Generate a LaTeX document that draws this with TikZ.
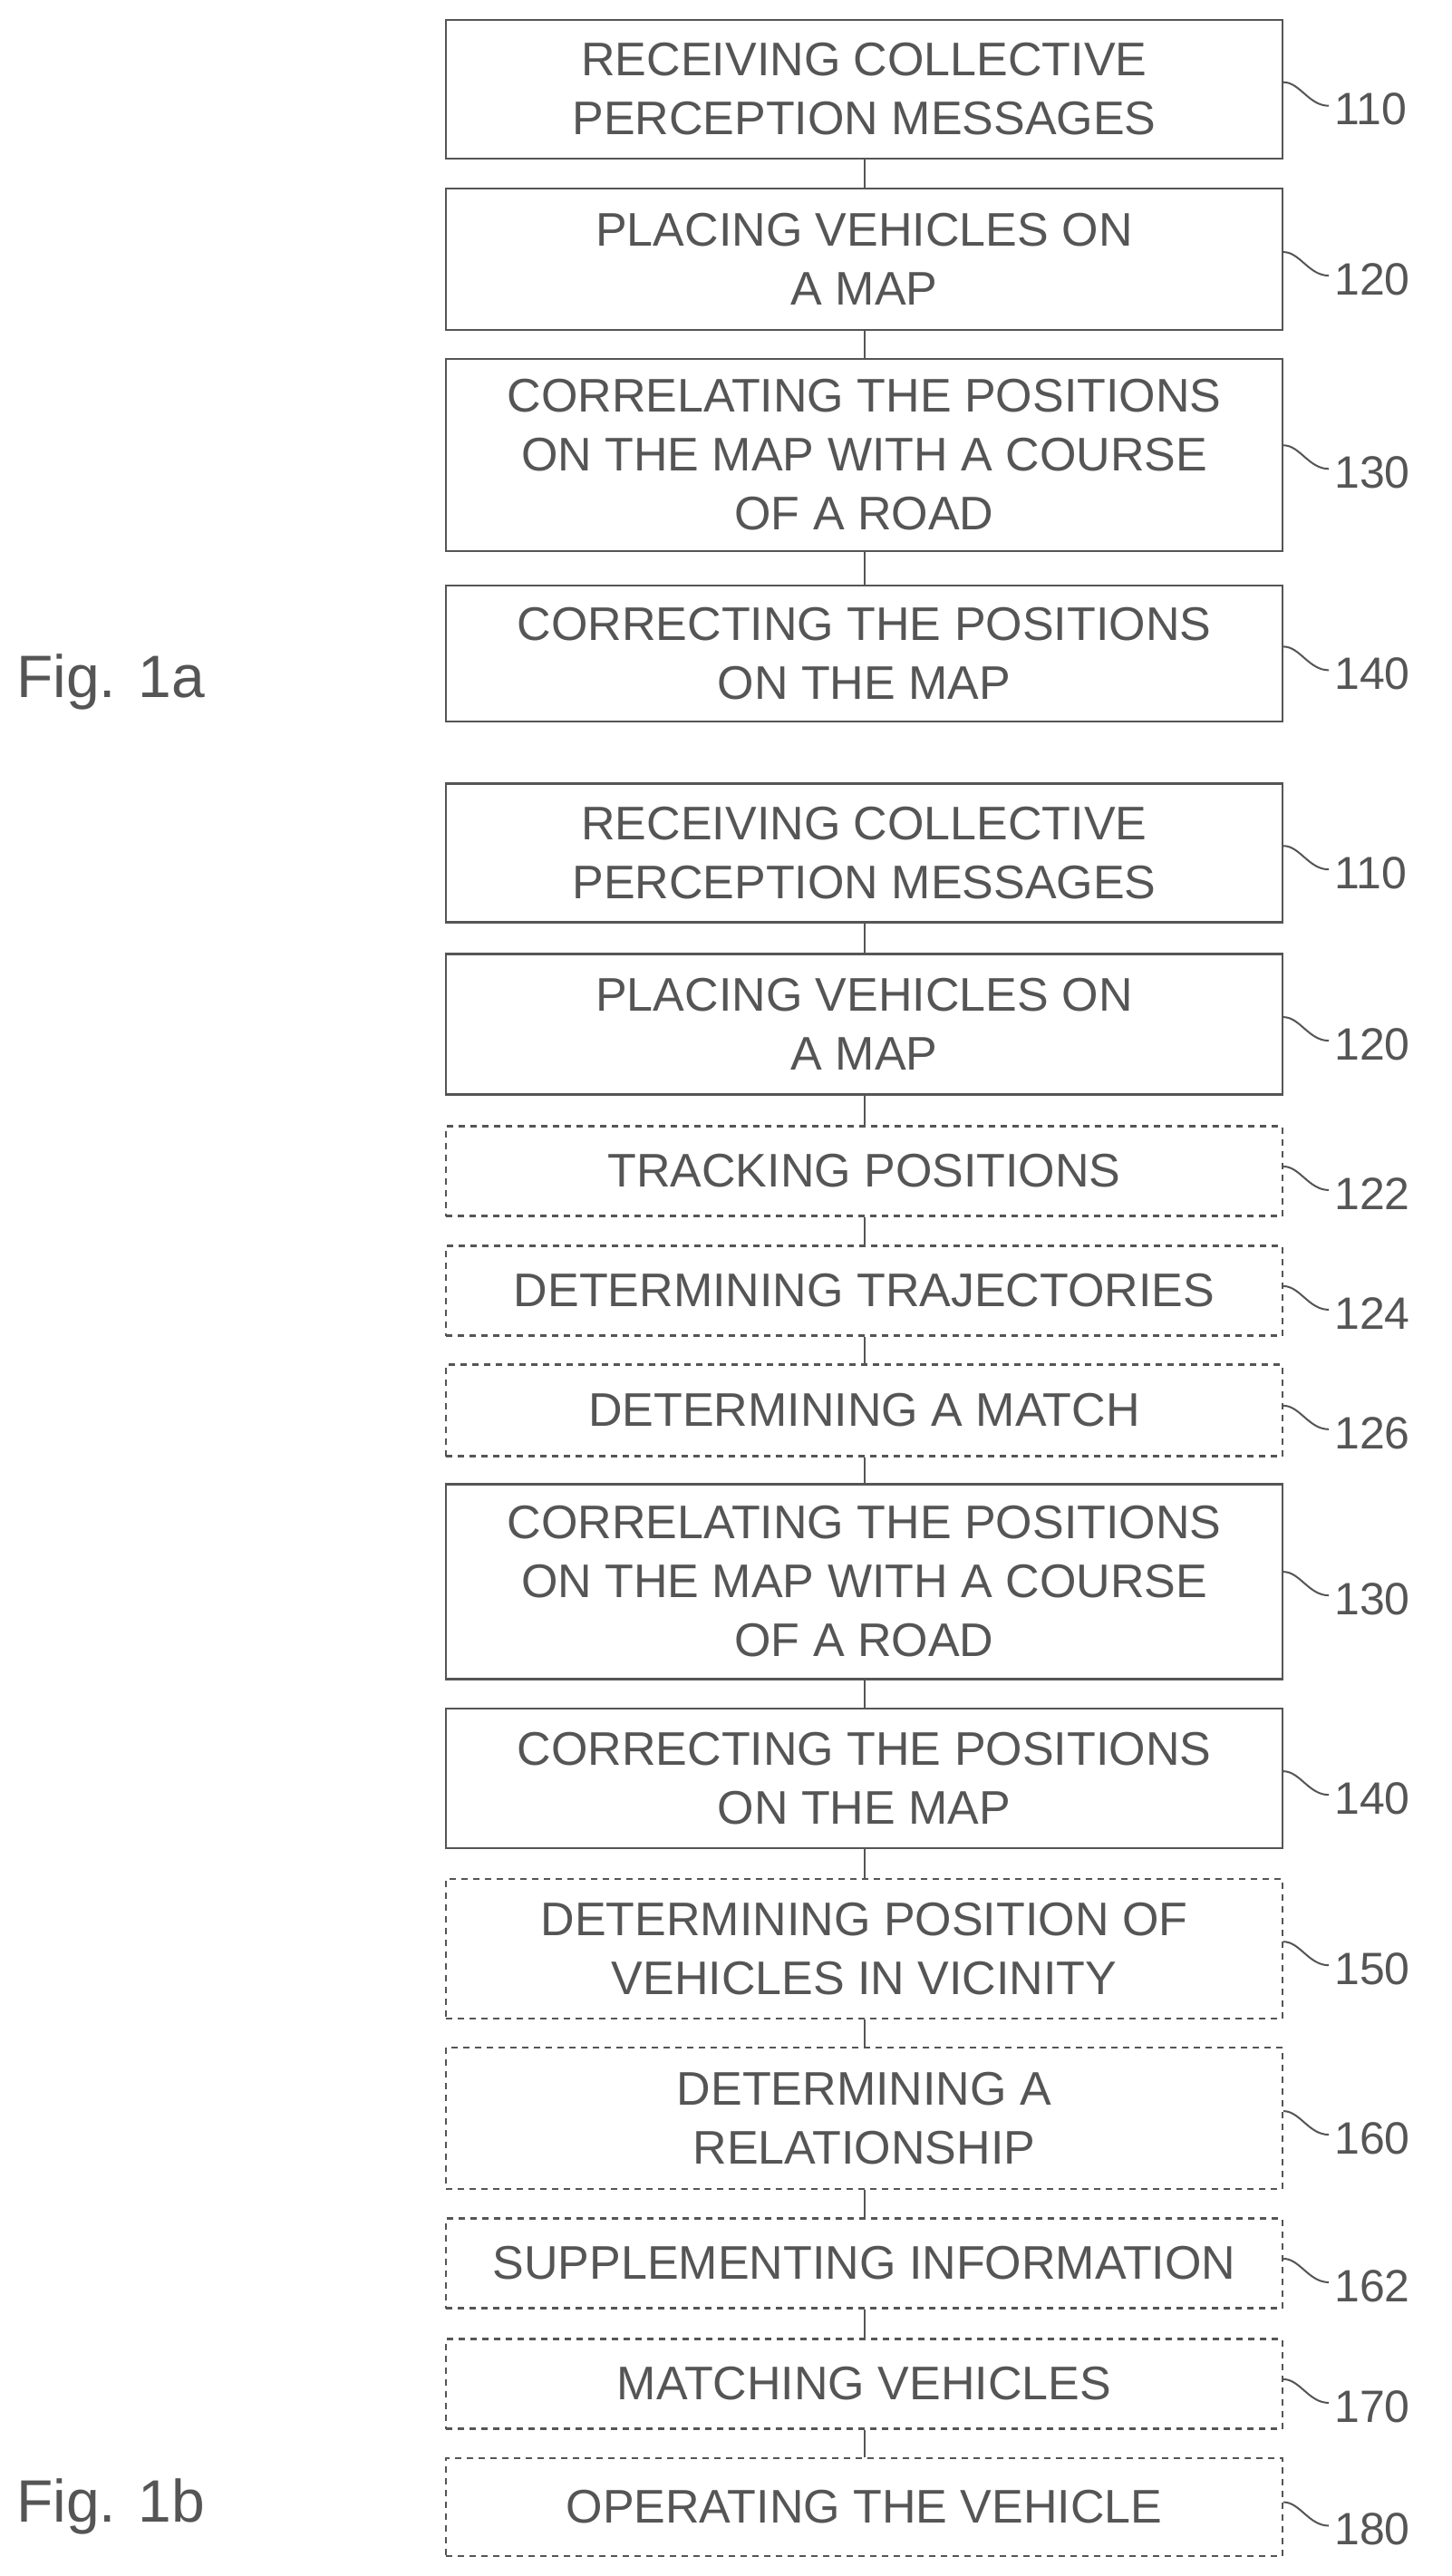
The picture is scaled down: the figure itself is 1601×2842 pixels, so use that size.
\documentclass[tikz,border=0pt]{standalone}
\usepackage{fontspec}
\setmainfont{Liberation Sans}
\usetikzlibrary{positioning,calc}
\definecolor{inkgray}{RGB}{85,85,85}
\newcommand\steplabel[2]{%
  \coordinate (#1 a) at ($(#1.south east)!0.55!(#1.north east)$);
  \draw[ref line] (#1 a) .. controls +(18,0) and +(-22,0) .. ++(50,26) coordinate (#1 b);
  \node[ref text, anchor=west] (#1 n) at ($(#1 b)+(6,4)$) {#2};
}
\begin{document}
\begin{tikzpicture}[x=1pt,y=-1pt,
    step box/.style={draw=inkgray,line width=2.2pt,text=inkgray,align=center,
      minimum width=923pt,inner sep=0pt,font=\fontsize{52}{65}\selectfont},
    opt box/.style={step box,dash pattern=on 7pt off 6pt},
    ref line/.style={draw=inkgray,line width=2pt},
    ref text/.style={text=inkgray,inner sep=0pt,font=\fontsize{50}{60}\selectfont},
    flow/.style={draw=inkgray,line width=2pt}
  ]
  \useasboundingbox (0,0) rectangle (1601,2842);
  % Fig. 1a
  \node[step box,minimum height=153pt] (a110) at (953.5,98.5) {RECEIVING COLLECTIVE\\PERCEPTION MESSAGES};
  \node[step box,minimum height=156pt] (a120) at (953.5,286) {PLACING VEHICLES ON\\A MAP};
  \node[step box,minimum height=212pt] (a130) at (953.5,502) {CORRELATING THE POSITIONS\\ON THE MAP WITH A COURSE\\OF A ROAD};
  \node[step box,minimum height=150pt] (a140) at (953.5,721) {CORRECTING THE POSITIONS\\ON THE MAP};
  \node[ref text,anchor=west,font=\fontsize{66}{70}\selectfont] (fig1a) at (18,752) {Fig. 1a};

  % Fig. 1b
  \node[step box,minimum height=153pt] (b110) at (953.5,941) {RECEIVING COLLECTIVE\\PERCEPTION MESSAGES};
  \node[step box,minimum height=155pt] (b120) at (953.5,1130) {PLACING VEHICLES ON\\A MAP};
  \node[opt box,minimum height=99pt] (b122) at (953.5,1292) {TRACKING POSITIONS};
  \node[opt box,minimum height=99pt] (b124) at (953.5,1424) {DETERMINING TRAJECTORIES};
  \node[opt box,minimum height=101pt] (b126) at (953.5,1556) {DETERMINING A MATCH};
  \node[step box,minimum height=215pt] (b130) at (953.5,1745) {CORRELATING THE POSITIONS\\ON THE MAP WITH A COURSE\\OF A ROAD};
  \node[step box,minimum height=154pt] (b140) at (953.5,1962) {CORRECTING THE POSITIONS\\ON THE MAP};
  \node[opt box,minimum height=154pt] (b150) at (953.5,2150) {DETERMINING POSITION OF\\VEHICLES IN VICINITY};
  \node[opt box,minimum height=156pt] (b160) at (953.5,2337) {DETERMINING A\\RELATIONSHIP};
  \node[opt box,minimum height=99pt] (b162) at (953.5,2497) {SUPPLEMENTING INFORMATION};
  \node[opt box,minimum height=99pt] (b170) at (953.5,2630) {MATCHING VEHICLES};
  \node[opt box,minimum height=108pt] (b180) at (953.5,2766) {OPERATING THE VEHICLE};
  \node[ref text,anchor=west,font=\fontsize{66}{70}\selectfont] (fig1b) at (18,2765) {Fig. 1b};

  % connectors
  \foreach \u/\v in {a110/a120,a120/a130,a130/a140,
      b110/b120,b120/b122,b122/b124,b124/b126,b126/b130,b130/b140,
      b140/b150,b150/b160,b160/b162,b162/b170,b170/b180}
    \draw[flow] (\u) -- (\v);

  % reference numerals
  \steplabel{a110}{110}
  \steplabel{a120}{120}
  \steplabel{a130}{130}
  \steplabel{a140}{140}
  \steplabel{b110}{110}
  \steplabel{b120}{120}
  \steplabel{b122}{122}
  \steplabel{b124}{124}
  \steplabel{b126}{126}
  \steplabel{b130}{130}
  \steplabel{b140}{140}
  \steplabel{b150}{150}
  \steplabel{b160}{160}
  \steplabel{b162}{162}
  \steplabel{b170}{170}
  \steplabel{b180}{180}
\end{tikzpicture}
\end{document}
